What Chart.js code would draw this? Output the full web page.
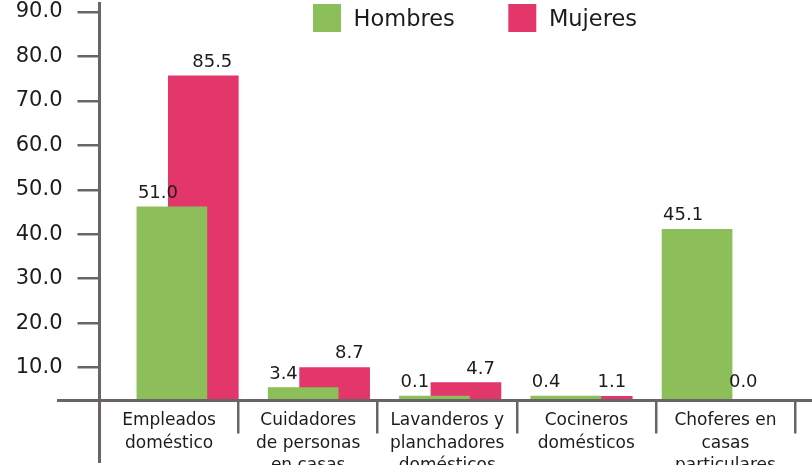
<!DOCTYPE html>
<html>
<head>
<meta charset="utf-8">
<style>html,body{margin:0;padding:0;background:#fff;overflow:hidden}</style>
<script src="https://cdn.jsdelivr.net/npm/chart.js@4.4.1/dist/chart.umd.min.js"></script>
</head>
<body>
<canvas id="chart" width="812" height="465"></canvas>
<script>
const categories = [
  ['Empleados', 'doméstico'],
  ['Cuidadores', 'de personas', 'en casas'],
  ['Lavanderos y', 'planchadores', 'domésticos'],
  ['Cocineros', 'domésticos'],
  ['Choferes en', 'casas', 'particulares']
];
const hombres = [51.0, 3.4, 0.1, 0.4, 45.1];
const mujeres = [85.5, 8.7, 4.7, 1.1, 0.0];
const yTickValues = [10, 20, 30, 40, 50, 60, 70, 80, 90];

const AXIS = '#6a6466';
const TEXT = '#1c1c1c';

Chart.defaults.font.family = "'DejaVu Sans', sans-serif";
Chart.defaults.color = TEXT;

// values written over each bar
const barValues = {
  id: 'barValues',
  afterDatasetsDraw(chart, args, opts) {
    const ctx = chart.ctx;
    ctx.save();
    ctx.font = opts.font;
    ctx.fillStyle = opts.color;
    ctx.textBaseline = 'alphabetic';
    chart.data.datasets.forEach((ds, i) => {
      chart.getDatasetMeta(i).data.forEach((bar, j) => {
        const txt = ds.data[j].y.toFixed(1);
        const half = bar.width / 2;
        const y = Math.min(bar.y - opts.gap, bar.base - opts.floor);
        if (ds.valueAlign === 'left') {
          ctx.textAlign = 'left';
          ctx.fillText(txt, bar.x - half + 1, y);
        } else {
          ctx.textAlign = 'right';
          ctx.fillText(txt, bar.x + half - 6, y);
        }
      });
    });
    ctx.restore();
  }
};

// legend sits inside the plot, off centre
const topLegend = {
  id: 'topLegend',
  afterDraw(chart, args, opts) {
    const ctx = chart.ctx;
    ctx.save();
    ctx.font = opts.font;
    ctx.textAlign = 'left';
    ctx.textBaseline = 'alphabetic';
    let x = opts.x;
    chart.data.datasets.forEach(ds => {
      ctx.fillStyle = ds.backgroundColor;
      ctx.fillRect(x, opts.y, opts.box, opts.box);
      x += opts.box + opts.gap;
      ctx.fillStyle = opts.color;
      ctx.fillText(ds.label, x, opts.y + 22);
      x += ctx.measureText(ds.label).width + opts.spacing;
    });
    ctx.restore();
  }
};

// axis lines run past the plot area
const axisExtend = {
  id: 'axisExtend',
  afterDraw(chart, args, opts) {
    const {ctx, chartArea: a} = chart;
    ctx.save();
    ctx.strokeStyle = opts.color;
    ctx.lineWidth = opts.width;
    ctx.beginPath();
    ctx.moveTo(opts.left, a.bottom);
    ctx.lineTo(chart.width, a.bottom);
    ctx.moveTo(a.left, a.bottom);
    ctx.lineTo(a.left, opts.bottom);
    ctx.stroke();
    ctx.restore();
  }
};

const noPad = s => { s.paddingTop = 0; s.paddingBottom = 0; s.paddingLeft = 0; s.paddingRight = 0; };

new Chart(document.getElementById('chart'), {
  type: 'bar',
  data: {
    labels: categories,
    datasets: [
      {
        label: 'Hombres',
        data: hombres.map((v, i) => ({x: i, y: v})),
        backgroundColor: '#8cbe59',
        xAxisID: 'xg',
        yAxisID: 'yb',
        grouped: false,
        barThickness: 70,
        minBarLength: 4.5,
        valueAlign: 'left'
      },
      {
        label: 'Mujeres',
        data: mujeres.map((v, i) => ({x: i, y: v})),
        backgroundColor: '#e3366b',
        xAxisID: 'xp',
        yAxisID: 'yb',
        grouped: false,
        barThickness: 70,
        valueAlign: 'right'
      }
    ]
  },
  options: {
    responsive: false,
    animation: false,
    devicePixelRatio: 1,
    layout: { padding: { top: 3, right: 17, bottom: 0, left: 0 } },
    plugins: {
      legend: { display: false },
      tooltip: { enabled: false },
      barValues: { font: "18px 'DejaVu Sans'", color: TEXT, gap: 9, floor: 14 },
      topLegend: { font: "22.5px 'DejaVu Sans'", color: TEXT, x: 313, y: 4, box: 28, gap: 12.6, spacing: 53.5 },
      axisExtend: { color: AXIS, width: 3, left: 57, bottom: 463 }
    },
    scales: {
      x: {
        position: 'bottom',
        offset: true,
        grid: { offset: true, drawOnChartArea: false, drawTicks: true, tickLength: 33, color: AXIS, lineWidth: 2.5 },
        border: { display: true, color: AXIS, width: 3 },
        ticks: { padding: -23.5, autoSkip: false, maxRotation: 0, minRotation: 0, color: TEXT, font: { size: 17, lineHeight: 1.3 } },
        afterFit: s => { s.height = 64.5; noPad(s); }
      },
      xg: { type: 'linear', display: false, offset: false, bounds: 'data', min: -0.5514, max: 4.746 },
      xp: { type: 'linear', display: false, offset: false, bounds: 'data', min: -0.7906, max: 4.506 },
      y: {
        position: 'left',
        min: 2.6,
        max: 92.02,
        afterBuildTicks: s => { s.ticks = yTickValues.map(v => ({value: v})); },
        ticks: { padding: 15, color: TEXT, font: { size: 21 }, callback: v => Number(v).toFixed(1) },
        grid: { drawOnChartArea: false, tickLength: 22, color: AXIS, lineWidth: 2.5 },
        border: { display: true, color: AXIS, width: 3 },
        afterFit: s => { s.width = 99.5; noPad(s); }
      },
      yb: { type: 'linear', display: false, bounds: 'data', min: 0, max: 104.7 }
    }
  },
  plugins: [barValues, topLegend, axisExtend]
});
</script>
</body>
</html>
